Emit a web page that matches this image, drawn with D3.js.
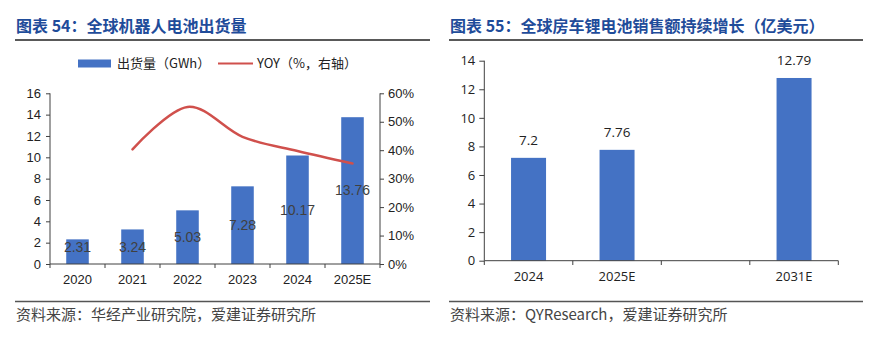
<!DOCTYPE html>
<html><head><meta charset="utf-8">
<script src="https://cdn.jsdelivr.net/npm/d3@7"></script>
<style>
html,body{margin:0;padding:0;background:#fff;}
svg{display:block;}
</style></head>
<body>
<svg id="c" width="880" height="353"></svg>
<script>
// ---- Data: chart 54 ----
const years1 = ["2020","2021","2022","2023","2024","2025E"];
const shipments = [2.31,3.24,5.03,7.28,10.17,13.76];
const yoyYears = ["2021","2022","2023","2024","2025E"];
const yoy = [40.3,55.2,44.7,39.7,35.3];
const leftTicks1 = [0,2,4,6,8,10,12,14,16];
const rightTicks1 = [0,10,20,30,40,50,60];
const title1 = "图表 54：全球机器人电池出货量";
const source1 = "资料来源：华经产业研究院，爱建证券研究所";
const legend1 = ["出货量（GWh）","YOY（%，右轴）"];

// ---- Data: chart 55 ----
const years2 = ["2024","2025E","","2031E"];
const sales = [7.2,7.76,null,12.79];
const leftTicks2 = [0,2,4,6,8,10,12,14];
const title2 = "图表 55：全球房车锂电池销售额持续增长（亿美元）";
const source2 = "资料来源：QYResearch，爱建证券研究所";

const svg = d3.select("#c");
const cjk = "'Noto Sans CJK SC','Noto Sans',sans-serif";
const latinA = "'Liberation Sans',Arial,sans-serif";
const latinB = "'Open Sans','Noto Sans',sans-serif";
const blue = "#4472C4", red = "#D0504C", titleBlue = "#1F4C9A", axisCol = "#404040";

// titles and rules
function frame(x0, x1, title, source, fam){
  svg.append("text").attr("x",x0+1).attr("y",32).attr("font-family",cjk)
    .attr("font-weight","bold").attr("font-size",16).attr("fill",titleBlue).text(title);
  svg.append("line").attr("x1",x0).attr("x2",x1).attr("y1",40).attr("y2",40)
    .attr("stroke","#222").attr("stroke-width",1.5);
  svg.append("line").attr("x1",x0).attr("x2",x1).attr("y1",301.5).attr("y2",301.5)
    .attr("stroke","#555").attr("stroke-width",1.5);
  svg.append("text").attr("x",x0+1).attr("y",320).attr("font-family",cjk)
    .attr("font-size",15).attr("fill","#444").text(source);
}
frame(15,430,title1,source1);
frame(449,863,title2,source2);

// ---------- Chart 54 ----------
{
  const x = d3.scaleBand().domain(years1).range([50,380]).paddingInner(0.59).paddingOuter(0.295);
  const xb = d3.scaleBand().domain(years1).range([50,380]);
  const y = d3.scaleLinear().domain([0,16]).range([264,93.3]);
  const y2 = d3.scaleLinear().domain([0,60]).range([264,93.3]);
  const g = svg.append("g");

  g.selectAll("rect.bar").data(shipments).join("rect").attr("class","bar")
    .attr("x",(d,i)=>x(years1[i])).attr("width",x.bandwidth())
    .attr("y",d=>y(d)).attr("height",d=>y(0)-y(d)).attr("fill",blue);

  // axes
  const ax = g.append("g").attr("transform","translate(50,0)")
    .call(d3.axisLeft(y).tickValues(leftTicks1).tickSize(4).tickPadding(5));
  const ax2 = g.append("g").attr("transform","translate(380,0)")
    .call(d3.axisRight(y2).tickValues(rightTicks1).tickSize(4).tickPadding(4).tickFormat(d=>d+"%"));
  const axx = g.append("g").attr("transform","translate(0,264)")
    .call(d3.axisBottom(xb).tickSize(0).tickPadding(11));
  // category boundary ticks
  g.selectAll("line.bt").data(d3.range(years1.length+1)).join("line").attr("class","bt")
    .attr("x1",i=>50+i*xb.step()).attr("x2",i=>50+i*xb.step())
    .attr("y1",264).attr("y2",268).attr("stroke",axisCol);
  [ax,ax2,axx].forEach(a=>{
    a.selectAll("path,line").attr("stroke",axisCol);
    a.selectAll("text").attr("font-family",latinA).attr("font-size",13).attr("fill","#222");
  });
  ax.select(".domain").attr("d","M0,264V93.3");
  ax2.select(".domain").attr("d","M0,264V93.3");
  axx.select(".domain").attr("d","M50,0H380");

  // value labels inside bars
  g.selectAll("text.vl").data(shipments).join("text").attr("class","vl")
    .attr("x",(d,i)=>xb(years1[i])+xb.bandwidth()/2)
    .attr("y",d=>Math.min((y(d)+y(0))/2, y(0)-17))
    .attr("dy","0.35em").attr("text-anchor","middle")
    .attr("font-family",latinA).attr("font-size",14).attr("fill","#404040").text(d=>d.toFixed(2));

  // YOY line
  const line = d3.line().x((d,i)=>xb(yoyYears[i])+xb.bandwidth()/2).y(d=>y2(d)).curve(d3.curveCardinal);
  g.append("path").datum(yoy).attr("d",line).attr("fill","none")
    .attr("stroke",red).attr("stroke-width",2.5).attr("stroke-linecap","round");

  // legend
  g.append("rect").attr("x",78).attr("y",59.5).attr("width",33).attr("height",8).attr("fill",blue);
  g.append("text").attr("x",117).attr("y",68).attr("font-family",cjk).attr("font-size",13)
    .attr("fill","#222").text(legend1[0]);
  g.append("line").attr("x1",218).attr("x2",253).attr("y1",63.5).attr("y2",63.5)
    .attr("stroke",red).attr("stroke-width",2);
  g.append("text").attr("x",257).attr("y",68).attr("font-family",cjk).attr("font-size",13)
    .attr("fill","#222").text(legend1[1]);
}

// ---------- Chart 55 ----------
{
  const xb = d3.scaleBand().domain(years2).range([484.3,838.3]);
  const bw = 35;
  const y = d3.scaleLinear().domain([0,14]).range([260.7,60.7]);
  const g = svg.append("g");
  const data = years2.map((c,i)=>({c,v:sales[i]})).filter(d=>d.v!=null);

  g.selectAll("rect").data(data).join("rect")
    .attr("x",d=>xb(d.c)+xb.bandwidth()/2-bw/2).attr("width",bw)
    .attr("y",d=>y(d.v)).attr("height",d=>y(0)-y(d.v)).attr("fill",blue);
  g.selectAll("text.vl").data(data).join("text").attr("class","vl")
    .attr("x",d=>xb(d.c)+xb.bandwidth()/2).attr("y",d=>y(d.v)-13)
    .attr("text-anchor","middle").attr("font-family",latinB).attr("font-size",13.5)
    .attr("fill","#222").text(d=>String(d.v));

  const ax = g.append("g").attr("transform","translate(484.3,0)")
    .call(d3.axisLeft(y).tickValues(leftTicks2).tickSize(5).tickPadding(4));
  const axx = g.append("g").attr("transform","translate(0,260.7)")
    .call(d3.axisBottom(xb).tickSize(0).tickPadding(11));
  g.selectAll("line.bt").data(d3.range(years2.length+1)).join("line").attr("class","bt")
    .attr("x1",i=>484.3+i*xb.step()).attr("x2",i=>484.3+i*xb.step())
    .attr("y1",260.7).attr("y2",265).attr("stroke",axisCol);
  [ax,axx].forEach(a=>{
    a.selectAll("path,line").attr("stroke",axisCol);
    a.selectAll("text").attr("font-family",latinB).attr("font-size",13).attr("fill","#222");
  });
  ax.select(".domain").attr("d","M0,260.7V60.7");
  axx.select(".domain").attr("d","M484.3,0H838.3");
}
</script>
</body></html>
